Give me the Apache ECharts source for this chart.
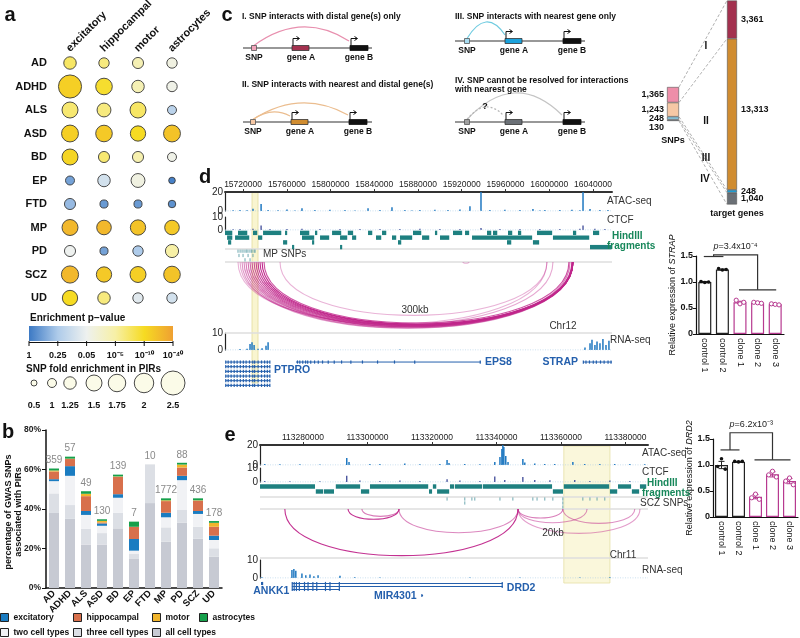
<!DOCTYPE html>
<html>
<head>
<meta charset="utf-8">
<script src="https://cdn.jsdelivr.net/npm/echarts@6.0.0/dist/echarts.min.js"></script>
<style>html,body{margin:0;padding:0;background:#fff;}#chart{width:800px;height:638px;}</style>
</head>
<body>
<div id="chart"></div>
<script>
/* ======================= DATA ======================= */
// ---- panel a ----
const cellTypes = ['excitatory','hippocampal','motor','astrocytes'];
const diseases  = ['AD','ADHD','ALS','ASD','BD','EP','FTD','MP','PD','SCZ','UD'];
// SNP fold enrichment in PIRs (rows: diseases, cols: cell types)
const foldEnrich = [
  [1.25,1.1,1.15,1.1],
  [2.4,1.6,1.25,1.1],
  [1.5,1.35,1.5,1.0],
  [1.65,1.6,1.45,1.65],
  [1.5,1.15,1.15,1.0],
  [1.0,1.25,1.35,0.6],
  [1.15,0.85,0.85,0.75],
  [1.5,1.4,1.45,1.4],
  [1.15,0.85,1.1,1.3],
  [1.7,1.45,1.5,1.6],
  [1.45,1.25,1.1,1.1]
];
// enrichment -log10(p)
const enrichNegLog10P = [
  [7.5,6.5,4.3,2.0],
  [16,9.5,4.3,1.7],
  [7,6.5,7.5,0.74],
  [16,19,10,22],
  [13,7,4.6,1.7],
  [0.3,1.0,2.0,0.06],
  [0.48,0.24,0.24,0.18],
  [28,28,22,19],
  [1.3,0.3,0.6,5],
  [28,19,16,22],
  [10,6.5,1.16,1.0]
];
const pScaleNegLog10 = [0, 0.602, 1.301, 5, 10, 40];
const pScaleLabels   = ['1','0.25','0.05','10⁻⁵','10⁻¹⁰','10⁻⁴⁰'];
const foldScaleValues = [0.5,1,1.25,1.5,1.75,2,2.5];
const foldScaleLabels = ['0.5','1','1.25','1.5','1.75','2','2.5'];

// ---- panel b (percentage of GWAS SNPs associated with PIRs) ----
const bAll   = [38, 35, 22, 22, 30.2, 14.7, 43, 23.4, 33, 25, 15.9];
const bThree = [9.9, 7, 8, 5.8, 7.9, 2.5, 19.6, 7.3, 6.5, 6, 4.2];
const bTwo   = [6.2, 14.8, 7, 3.7, 7.6, 1.7, 0, 5.1, 15.1, 6.5, 4.2];
const bExc   = [1, 4.9, 2, 1.2, 1.8, 5.9, 0, 2.3, 2.2, 1.5, 2.2];
const bHipp  = [3.9, 3.6, 7.5, 0.5, 8.8, 6.2, 0, 5.9, 4.2, 5.2, 4.5];
const bMotor = [0.5, 0.2, 1.2, 0.8, 0.2, 0, 0, 0.4, 1.5, 0.2, 2.0];
const bAstro = [1, 1, 1.3, 0.8, 0.9, 2.6, 0, 1, 0.9, 1, 0.9];
const bCounts = [359, 57, 49, 130, 139, 7, 10, 1772, 88, 436, 178];

// ---- panel c ----
const interactionClasses = ['I','II','III','IV'];
const snpCounts = [1365, 1243, 248, 130];
const targetGeneCounts = [3361, 13313, 248, 1040];

// ---- panel d (chr12, kb) ----
const dTicks = [15720,15760,15800,15840,15880,15920,15960,16000,16040];
const dTickLabels = ['15720000','15760000','15800000','15840000','15880000','15920000','15960000','16000000','16040000'];
const dRange = [15703.5, 16057.4];
const dAtac = [[15710.9,0.8],[15717.3,1],[15723.7,0.8],[15729.1,2.5],[15736.5,7.5],[15742.9,1],[15752.0,0.8],[15760.2,1.5],[15767.5,0.6],[15773.9,3],[15785.8,1],[15799.5,1.2],[15813.3,1],[15822.4,0.6],[15834.3,3],[15845.3,1],[15856.2,4],[15868.1,1],[15874.5,0.6],[15881.8,1],[15895.5,1.2],[15907.4,1],[15918.4,1.5],[15927.5,5],[15937.6,20],[15945.8,1],[15959.5,1.2],[15973.3,1],[15985.1,2],[15991.5,0.6],[15996.1,1],[16009.8,1],[16020.8,1.2],[16028.1,0.8],[16030.9,20],[16037.3,2],[16046.4,1],[16053.7,1]];
const dCtcf = [[15710.9,0.6],[15717.3,0.8],[15729.1,1],[15736.5,3.5],[15744.7,0.8],[15760.2,0.8],[15773.9,1],[15790.4,0.7],[15808.7,0.8],[15827.0,0.7],[15845.3,0.8],[15863.5,0.7],[15881.8,0.9],[15900.1,0.7],[15918.4,0.8],[15937.6,1.6],[15955.0,0.8],[15973.3,0.7],[15991.5,0.8],[16009.8,0.7],[16028.1,1],[16030.9,3.5],[16041.8,1],[16051.0,0.8]];
const dRna = [[15717.3,0.6],[15723.7,0.8],[15726.4,3.5],[15728.2,4.5],[15730.1,3],[15733.7,0.8],[15737.4,1],[15741.0,2.5],[15742.9,4.5],[15863.5,0.3],[16032.7,1.5],[16037.3,4],[16039.1,6],[16041.8,3],[16043.7,5],[16046.4,4],[16049.1,6.5],[16051.9,3],[16054.6,5.5]];
const dHindIII = [
  [15703.5,15710.9,0],[15715.4,15724.6,0],[15729.1,15733.7,0],[15738.3,15755.7,0],[15758.4,15761.1,0],[15772.1,15781.3,0],[15785.8,15788.6,0],[15801.4,15810.5,0],[15815.8,15821.4,0],[15834.3,15838.9,0],[15847.1,15851.7,0],[15875.4,15883.7,0],[15895.5,15898.3,0],[15912.0,15921.1,0],[15923.0,15927.5,0],[15943.1,15947.7,0],[15948.6,15953.2,0],[15962.3,15966.9,0],[15971.4,15975.1,0],[15988.8,16003.4,0],[16021.7,16025.4,0],[16040.0,16046.4,0],
  [15705.4,15710.9,1],[15712.7,15726.4,1],[15733.7,15738.3,1],[15773.9,15785.8,1],[15790.4,15799.5,1],[15808.7,15816.0,1],[15819.7,15824.2,1],[15841.6,15847.1,1],[15856.2,15860.8,1],[15863.5,15875.4,1],[15883.7,15891.0,1],[15900.1,15909.3,1],[15929.4,15985.1,1],[16003.4,16037.3,1],
  [15706.3,15709.9,2],[15756.6,15761.1,2],[15783.1,15785.8,2],[15861.7,15865.4,2],[15961.4,15966.0,2],[15985.1,15991.5,2],
  [15764.8,15767.5,3],[15808.7,15811.4,3],[16037.3,16057.4,3]
];
const dSnps = [[15715.4,0],[15717.3,0],[15719.1,0],[15720.9,0],[15722.7,0],[15723.7,0],[15725.5,0],[15727.3,0],[15728.2,0],[15730.1,0],[15731.0,0],[15716.3,1],[15720.0,1],[15724.6,1],[15729.1,1],[15721.8,2],[15726.4,2]];
// interactions: [start kb, end kb, strength]
const dArcs = [[15715.4,15997.9,0.35],[15717.3,16003.4,0.4],[15753.8,15997.9,0.35],[15719.1,16021.7,0.5],[15720.9,16021.7,0.55],[15722.7,16019.0,0.6],[15724.6,16021.7,0.65],[15726.4,16021.7,0.7],[15728.2,16020.8,0.75],[15730.1,16021.7,0.8],[15731.9,16021.7,0.85],[15733.7,16021.7,0.9],[15735.5,16020.8,0.95],[15737.4,16021.7,1.0],[15739.2,16018.0,0.8],[15921.1,15926.6,0.35]];
const dHighlight = [15728.2, 15733.7];
// genes: [start, end, row, label, gene]
const dGenes = [[15704.0,15744.7,0,'','PTPRO'],[15704.0,15744.7,1,'PTPRO','PTPRO'],[15704.0,15744.7,2,'','PTPRO'],[15704.0,15744.7,3,'','PTPRO'],[15704.0,15744.7,4,'','PTPRO'],[15704.0,15744.7,5,'','PTPRO'],[15768.4,15937.6,0,'EPS8','EPS8'],[16030.9,16057.4,0,'STRAP','STRAP']];
const dExons = {
  PTPRO:[15704.2,15706.4,15709.1,15711.9,15714.6,15717.5,15720.3,15722.8,15725.9,15728.9,15730.6,15733.8,15736.9,15739.7,15742.2,15744.5],
  EPS8:[15768.0,15769.8,15771.9,15774.6,15777.2,15779.1,15781.9,15785.4,15788.8,15792.7,15797.9,15803.4,15810.1,15818.6,15829.2,15843.0,15858.5,15877.0,15936.9],
  STRAP:[16031.2,16033.6,16036.8,16040.3,16043.1,16046.9,16050.2,16053.8,16056.5]
};
const barCats = ['control 1','control 2','clone 1','clone 2','clone 3'];
const dBarMean = [1.0, 1.24, 0.61, 0.60, 0.57];
const dBarErr  = [0.01, 0.01, 0.02, 0.01, 0.01];
const dBarPts  = [[1.01,0.99,1.0],[1.26,1.23,1.24],[0.65,0.58,0.61],[0.61,0.60,0.59],[0.58,0.57,0.56]];
const dBracket = {ctrl:1.49, top:1.52, clone:0.85, p:'3.4x10⁻⁴'};

// ---- panel e (chr11, kb) ----
const eTicks = [113280,113300,113320,113340,113360,113380];
const eTickLabels = ['113280000','113300000','113320000','113340000','113360000','113380000'];
const eRange = [113266.7, 113387.0];
const eAtac = [[113268.2,1],[113272.9,0.8],[113279.1,0.8],[113285.3,0.6],[113293.6,7],[113294.3,3],[113300.8,1],[113303.9,1],[113311.6,1.5],[113316.3,0.8],[113322.5,1],[113324.7,5],[113325.3,2],[113330.2,1],[113334.9,0.8],[113339.5,3],[113341.1,8],[113341.7,16],[113342.0,20],[113342.3,18],[113342.9,9],[113343.6,3],[113348.2,6],[113348.8,2.5],[113351.9,1.5],[113355.0,1],[113358.1,1],[113363.7,3],[113367.4,1],[113372.1,1],[113376.7,1],[113381.4,1],[113386.0,0.8]];
const eCtcf = [[113268.2,0.8],[113276.0,0.6],[113285.3,0.6],[113293.6,4.5],[113297.7,1],[113303.9,0.8],[113310.1,1],[113316.3,0.8],[113324.7,2],[113328.7,1],[113334.9,0.8],[113339.5,4],[113342.6,1.5],[113348.2,3.5],[113351.9,1.5],[113356.6,1.2],[113364.3,1.5],[113369.0,0.8],[113375.2,1],[113381.4,0.8]];
const eRna = [[113267.3,0.4],[113276.6,4.5],[113277.2,5],[113277.8,4],[113279.7,2.5],[113280.9,1.5],[113282.2,2],[113283.4,1],[113284.7,1.5],[113291.5,1.2],[113296.1,0.4],[113303.9,0.3],[113331.8,0.3],[113347.3,0.3],[113365.9,0.3],[113375.2,0.4]];
const eHindIII = [
  [113266.7,113284.0,0],[113290.2,113298.0,0],[113300.8,113319.1,0],[113320.3,113321.6,0],[113325.6,113327.1,0],[113327.1,113335.8,0],[113335.8,113357.5,0],[113360.9,113375.2,0],[113377.7,113382.0,0],[113384.5,113386.7,0],
  [113284.0,113286.5,1],[113286.5,113289.9,1],[113298.0,113300.8,1],[113319.1,113320.3,1],[113321.6,113325.6,1],[113357.5,113360.9,1],[113375.2,113377.7,1],[113382.0,113384.5,1]
];
const eSnps = [[113324.7,0],[113330.2,0],[113330.2,1],[113332.4,0],[113333.3,0],[113341.1,0],[113345.1,0],[113351.3,0],[113352.6,0],[113355.0,0],[113357.5,0],[113360.6,0],[113360.6,1],[113360.6,2],[113366.8,0],[113369.0,0],[113371.2,0],[113373.6,0]];
const eArcs = [[113274.4,113346.7,0.95],[113294.0,113309.8,0.95],[113298.3,113309.8,0.6],[113309.8,113346.7,0.55],[113346.7,113360.6,0.6],[113346.7,113368.1,0.5],[113360.6,113382.9,0.5],[113346.7,113384.5,0.45]];
const eHighlight = [113360.9, 113375.2];
const eGenes = [[113267.1,113267.6,0,'ANKK1','ANKK1'],[113276.6,113342.0,0,'','DRD2'],[113276.6,113342.0,1,'DRD2','DRD2'],[113276.6,113291.5,2,'','DRD2'],[113316.8,113317.0,4,'MIR4301','MIR4301']];
const eExons = {
  ANKK1:[113267.2,113267.5],
  DRD2:[113276.7,113277.3,113278.0,113278.9,113280.5,113281.6,113283.1,113284.3,113287.0,113288.4,113291.3,113341.8],
  MIR4301:[113316.9]
};
const eBarMean = [1.0, 1.06, 0.39, 0.82, 0.69];
const eBarErr  = [0.07, 0.01, 0.04, 0.05, 0.05];
const eBarPts  = [[0.97,1.12,0.92],[1.07,1.06,1.07],[0.37,0.44,0.34],[0.81,0.88,0.77],[0.69,0.75,0.62]];
const eBracket = {ctrl:1.29, top:1.62, clone:1.1, p:'6.2x10⁻³'};

/* ======================= STYLE ======================= */
const F = '"Liberation Sans", Arial, Helvetica, sans-serif';
const pColors = ['#3c79c4','#aecbea','#eef1ef','#f7f0a6','#f6db22','#efa032'];
const foldDiam = [6,9,12.5,16,17.5,19.5,24];
const GENE = '#2560ad', ARC = '#c0268b', TEAL = '#1e8080', CLONE = '#b73a90', GREEN = '#17875a';
const snpColors = ['#ee8ea9','#f6c8a5','#8fd3ee','#6b7076'];
const geneColors = ['#a3314f','#d08c30','#1ba2dc','#6b7076'];
const geneLabelPos = {PTPRO:['right',4,3], EPS8:['right',4,0], STRAP:['left',-5,0], ANKK1:['below',-8,8], DRD2:['right',4,2], MIR4301:['left',-5,1]};

function interp(xs, ys, v){ if(v<=xs[0]) return ys[0]; for(let i=1;i<xs.length;i++){ if(v<=xs[i]){ const t=(v-xs[i-1])/(xs[i]-xs[i-1]); return ys[i-1]+t*(ys[i]-ys[i-1]); } } return ys[ys.length-1]; }
function hexRgb(h){ return [parseInt(h.slice(1,3),16),parseInt(h.slice(3,5),16),parseInt(h.slice(5,7),16)]; }
function pColor(v){ let i=1; while(i<pScaleNegLog10.length-1 && v>pScaleNegLog10[i]) i++; const t=Math.max(0,Math.min(1,(v-pScaleNegLog10[i-1])/(pScaleNegLog10[i]-pScaleNegLog10[i-1]))); const a=hexRgb(pColors[i-1]), b=hexRgb(pColors[i]); return 'rgb('+a.map((c,k)=>Math.round(c+(b[k]-c)*t)).join(',')+')'; }
function foldSize(f){ return interp(foldScaleValues, foldDiam, f); }
const sum = a => a.reduce((s,v)=>s+v,0);
const fmt = n => String(n).replace(/\B(?=(\d{3})+(?!\d))/g, ',');

/* ======================= OPTION ======================= */
const grid=[], xAxis=[], yAxis=[], series=[];
function addGrid(g, xa, ya){ const i=grid.length; grid.push(Object.assign({outerBoundsMode:'none', containLabel:false}, g)); xAxis.push(Object.assign({gridIndex:i}, xa)); yAxis.push(Object.assign({gridIndex:i}, ya)); return i; }
const hv = (min,max,inv)=>({type:'value', min:min, max:max, inverse:!!inv, show:false, splitLine:{show:false}});
const lbl = (o)=>Object.assign({fontFamily:F, color:'#111'}, o);

// ---- panel a ----
const gA = addGrid({left:53, top:51.25, width:136, height:258.5},
  {type:'category', data:cellTypes, position:'top', axisLine:{show:false}, axisTick:{show:false}, splitLine:{show:false}, axisLabel:{show:false}},
  {type:'category', data:diseases, inverse:true, axisLine:{show:false}, axisTick:{show:false}, splitLine:{show:false}, axisLabel:lbl({interval:0, margin:6, fontWeight:'bold', fontSize:11})});
const bubbles=[];
diseases.forEach((d,r)=>cellTypes.forEach((c,k)=>bubbles.push([k, r, foldEnrich[r][k], enrichNegLog10P[r][k]])));
series.push({type:'scatter', xAxisIndex:gA, yAxisIndex:gA, data:bubbles, silent:true, symbolSize:v=>foldSize(v[2]), itemStyle:{color:p=>pColor(p.data[3]), borderColor:'#3a3a3a', borderWidth:0.9, opacity:1}});

// ---- panel b ----
const gB = addGrid({left:46, top:430, width:176, height:158},
  {type:'category', data:diseases, axisLine:{lineStyle:{color:'#111', width:1.5}}, axisTick:{alignWithLabel:true, length:3, lineStyle:{color:'#111'}}, axisLabel:lbl({interval:0, rotate:45, margin:4, fontWeight:'bold', fontSize:9.5})},
  {type:'value', min:0, max:80, interval:20, axisLine:{show:true, onZero:false, lineStyle:{color:'#111', width:1.5}}, axisTick:{show:true, length:4, lineStyle:{color:'#111'}}, splitLine:{show:false}, axisLabel:lbl({formatter:'{value}%', margin:5, fontWeight:'bold', fontSize:8.5, color:'#222'})});
const bSegs = [['all cell types',bAll,'#c7cad3'],['three cell types',bThree,'#dcdfe5'],['two cell types',bTwo,'#f1f2f5'],['excitatory',bExc,'#1a7cc1'],['hippocampal',bHipp,'#d8704c'],['motor',bMotor,'#f1b52c'],['astrocytes',bAstro,'#16a04b']];
bSegs.forEach(s=>series.push({type:'bar', name:s[0], xAxisIndex:gB, yAxisIndex:gB, stack:'b', barWidth:10, data:s[1], itemStyle:{color:s[2]}, silent:true}));
series.push({type:'bar', name:'count', xAxisIndex:gB, yAxisIndex:gB, stack:'b', barWidth:10, data:bCounts.map(()=>0), itemStyle:{color:'rgba(0,0,0,0)'}, silent:true,
  label:{show:true, position:'top', distance:3, formatter:p=>String(bCounts[p.dataIndex]), fontFamily:F, fontSize:10, color:'#8a8a8a'}});
const legendPos = [['excitatory',0,613],['hippocampal',73,613],['motor',152,613],['astrocytes',199,613],['two cell types',0,628],['three cell types',73,628],['all cell types',152,628]];
const legend = legendPos.map(l=>({data:[l[0]], left:l[1], top:l[2], padding:0, itemGap:0, itemWidth:8, itemHeight:8, icon:'rect', selectedMode:false,
  itemStyle:{borderColor:'#222', borderWidth:1}, textStyle:{fontFamily:F, fontWeight:'bold', fontSize:8.5, color:'#111'}}));

// ---- panel c ----
const gS = addGrid({left:667, top:87, width:12, height:34}, {type:'category', data:['SNPs'], show:false}, hv(0, sum(snpCounts), true));
const gT = addGrid({left:727, top:0.5, width:10, height:204}, {type:'category', data:['target genes'], show:false}, hv(0, sum(targetGeneCounts), true));
interactionClasses.forEach((cls,i)=>{
  series.push({type:'bar', name:'SNPs '+cls, xAxisIndex:gS, yAxisIndex:gS, stack:'s', barWidth:'100%', data:[snpCounts[i]], silent:true,
    itemStyle:{color:snpColors[i], borderColor:'#555', borderWidth:0.6},
    label:{show:true, position:'left', distance:3, offset:(i===3?[0,7]:[0,0]), formatter:fmt(snpCounts[i]), fontFamily:F, fontWeight:'bold', fontSize:9, color:'#111'}});
  series.push({type:'bar', name:'genes '+cls, xAxisIndex:gT, yAxisIndex:gT, stack:'t', barWidth:'100%', data:[targetGeneCounts[i]], silent:true,
    itemStyle:{color:geneColors[i], borderColor:'#555', borderWidth:0.6},
    label:{show:true, position:'right', distance:4, offset:(i===1?[0,-5]:[0,0]), formatter:fmt(targetGeneCounts[i]), fontFamily:F, fontWeight:'bold', fontSize:9, color:'#111'}});
});

// ---- helpers for genome tracks ----
function coordAxis(range, ticks, labels){
  const fmtTick = v => { let bi=0; ticks.forEach((t,i)=>{ if(Math.abs(t-v)<Math.abs(ticks[bi]-v)) bi=i; }); return labels[bi]; };
  return {type:'value', min:range[0], max:range[1], position:'top', splitLine:{show:false},
    axisLine:{show:true, onZero:false, lineStyle:{color:'#333', width:2}},
    axisTick:{show:true, customValues:ticks, length:3, lineStyle:{color:'#333'}},
    axisLabel:{show:true, customValues:ticks, formatter:fmtTick, margin:3, fontFamily:F, fontSize:8.5, color:'#222'}};
}
const sigY = (max)=>({type:'value', min:0, max:max, interval:max, splitLine:{show:false}, axisLine:{show:true, onZero:false, lineStyle:{color:'#222', width:1.2}}, axisTick:{show:false}, axisLabel:{fontFamily:F, fontSize:10, color:'#222', margin:2}});
const hx = (range)=>({type:'value', min:range[0], max:range[1], show:false, splitLine:{show:false}});
function signalSeries(gi, data, color, w, range){
  series.push({type:'line', xAxisIndex:gi, yAxisIndex:gi, data:[[range[0],0],[range[1],0]], symbol:'none', silent:true, lineStyle:{color:'#a9cbe6', width:0.8, type:[1,1.5]}});
  series.push({type:'custom', xAxisIndex:gi, yAxisIndex:gi, data:data, silent:true, renderItem:(p,api)=>{
    const a=api.coord([api.value(0),0]), b=api.coord([api.value(0),api.value(1)]);
    return {type:'rect', shape:{x:a[0]-w/2, y:b[1], width:w, height:Math.max(0.6,a[1]-b[1])}, style:{fill:color}};
  }});
}
function fragSeries(gi, data){
  series.push({type:'custom', xAxisIndex:gi, yAxisIndex:gi, data:data, silent:true, renderItem:(p,api)=>{
    const a=api.coord([api.value(0),api.value(2)]), b=api.coord([api.value(1),api.value(2)]);
    return {type:'rect', shape:{x:a[0], y:a[1]-2.2, width:Math.max(1,b[0]-a[0]-0.8), height:4.4}, style:{fill:TEAL}};
  }});
}
function snpSeries(gi, data){
  series.push({type:'custom', xAxisIndex:gi, yAxisIndex:gi, data:data, silent:true, renderItem:(p,api)=>{
    const a=api.coord([api.value(0),api.value(1)]);
    return {type:'line', shape:{x1:a[0], y1:a[1]-1.6, x2:a[0], y2:a[1]+1.6}, style:{stroke:'#5e9fa8', lineWidth:0.9}};
  }});
}
function arcSeries(gi, data){
  series.push({type:'custom', xAxisIndex:gi, yAxisIndex:gi, data:data, silent:true, renderItem:(p,api)=>{
    const a=api.coord([api.value(0),0]), b=api.coord([api.value(1),0]);
    const k=0.2*(b[0]-a[0])*4/3;
    return {type:'bezierCurve', shape:{x1:a[0], y1:a[1], x2:b[0], y2:b[1], cpx1:a[0], cpy1:a[1]+k, cpx2:b[0], cpy2:b[1]+k}, style:{stroke:ARC, opacity:api.value(2), lineWidth:1.1, fill:'none'}};
  }});
}
function geneSeries(gi, genes, exons){
  series.push({type:'custom', xAxisIndex:gi, yAxisIndex:gi, data:genes.map((g,i)=>[g[0], g[2], i]), silent:true, renderItem:(p,api)=>{
    const g=genes[api.value(2)];
    const a=api.coord([g[0],g[2]]), b=api.coord([g[1],g[2]]);
    const ch=[{type:'line', shape:{x1:a[0], y1:a[1], x2:Math.max(b[0],a[0]+1.5), y2:b[1]}, style:{stroke:GENE, lineWidth:1}}];
    (exons[g[4]]||[]).forEach(e=>{ if(e>=g[0]-0.01 && e<=g[1]+0.01){ const c=api.coord([e,g[2]]); ch.push({type:'rect', shape:{x:c[0]-0.6, y:c[1]-1.6, width:1.2, height:3.2}, style:{fill:GENE}}); }});
    if(g[3]){
      const lp=geneLabelPos[g[4]];
      let x, al='left';
      if(lp[0]==='right'){ x=b[0]+lp[1]; } else if(lp[0]==='left'){ x=a[0]+lp[1]; al='right'; } else { x=a[0]+lp[1]; }
      ch.push({type:'text', x:x, y:a[1]+lp[2], style:{text:g[3], fill:GENE, fontFamily:F, fontWeight:'bold', fontSize:10.5, align:al, verticalAlign:'middle', textAlign:al, textVerticalAlign:'middle'}});
    }
    return {type:'group', children:ch};
  }});
}

// ---- panel d tracks ----
const gDA = addGrid({left:225, top:192, width:387, height:19}, coordAxis(dRange, dTicks, dTickLabels), sigY(20));
signalSeries(gDA, dAtac, '#1f78c1', 1.5, dRange);
const gDC = addGrid({left:225, top:217, width:387, height:13}, hx(dRange), sigY(10));
signalSeries(gDC, dCtcf, '#2d3a8f', 1.2, dRange);
const gDH = addGrid({left:225, top:230.5, width:387, height:19}, hx(dRange), hv(-0.5, 3.5, true));
fragSeries(gDH, dHindIII);
const gDS = addGrid({left:225, top:249, width:387, height:13}, hx(dRange), hv(-0.5, 2.5, true));
snpSeries(gDS, dSnps);
const gDR = addGrid({left:225, top:262, width:387, height:70}, hx(dRange), hv(0, 1, true));
arcSeries(gDR, dArcs);
const gDN = addGrid({left:225, top:333, width:387, height:17}, hx(dRange), sigY(10));
signalSeries(gDN, dRna, '#1f78c1', 1.5, dRange);
const gDG = addGrid({left:225, top:359.7, width:387, height:28}, hx(dRange), hv(-0.5, 5.5, true));
geneSeries(gDG, dGenes, dExons);

// ---- bar charts ----
function barChart(g, means, errs, pts){
  series.push({type:'bar', xAxisIndex:g, yAxisIndex:g, barWidth:13, silent:true, data:means.map((v,i)=>({value:v, itemStyle:{borderColor:i<2?'#222':CLONE}})), itemStyle:{color:'#fff', borderWidth:1.2}});
  series.push({type:'custom', xAxisIndex:g, yAxisIndex:g, silent:true, z:5, data:means.map((m,i)=>[i,m,errs[i]]), renderItem:(p,api)=>{
    const i=api.value(0), m=api.value(1), e=api.value(2), col=i<2?'#222':CLONE;
    const t=api.coord([i,m+e]), b=api.coord([i,m-e]);
    return {type:'group', children:[
      {type:'line', shape:{x1:t[0], y1:t[1], x2:b[0], y2:b[1]}, style:{stroke:col, lineWidth:1}},
      {type:'line', shape:{x1:t[0]-3, y1:t[1], x2:t[0]+3, y2:t[1]}, style:{stroke:col, lineWidth:1}},
      {type:'line', shape:{x1:b[0]-3, y1:b[1], x2:b[0]+3, y2:b[1]}, style:{stroke:col, lineWidth:1}}]};
  }});
  series.push({type:'custom', xAxisIndex:g, yAxisIndex:g, silent:true, z:6, data:pts.map((d,i)=>[i,d[0],d[1],d[2]]), renderItem:(p,api)=>{
    const i=api.value(0), ch=[];
    for(let k=0;k<3;k++){ const c=api.coord([i, api.value(k+1)]);
      ch.push(i<2 ? {type:'circle', shape:{cx:c[0]+(k-1)*3.8, cy:c[1], r:1.8}, style:{fill:'#111'}}
                  : {type:'circle', shape:{cx:c[0]+(k-1)*3.8, cy:c[1], r:2.1}, style:{fill:'#fff', stroke:CLONE, lineWidth:1}}); }
    return {type:'group', children:ch};
  }});
}
function barAxes(gene){
  return [
    {type:'category', data:barCats, axisLine:{lineStyle:{color:'#111', width:1.2}}, axisTick:{alignWithLabel:true, length:3, lineStyle:{color:'#111'}}, axisLabel:lbl({interval:0, rotate:-90, margin:4, fontSize:9})},
    {type:'value', min:0, max:1.5, interval:0.5, splitLine:{show:false}, axisLine:{show:true, onZero:false, lineStyle:{color:'#111', width:1.2}}, axisTick:{show:true, length:3, lineStyle:{color:'#111'}},
      axisLabel:lbl({formatter:v=>v===0?'0':v.toFixed(1), margin:3, fontWeight:'bold', fontSize:9}),
      name:'Relative expression of {i|'+gene+'}', nameLocation:'middle', nameGap:15, nameRotate:90,
      nameTextStyle:{fontFamily:F, fontSize:9, color:'#111', rich:{i:{fontFamily:F, fontStyle:'italic', fontSize:9, color:'#111'}}}}
  ];
}
const dAx = barAxes('STRAP');
const gBD = addGrid({left:696, top:256, width:88, height:78}, dAx[0], dAx[1]);
barChart(gBD, dBarMean, dBarErr, dBarPts);

// ---- panel e tracks ----
const gEA = addGrid({left:260, top:445, width:388, height:20}, coordAxis(eRange, eTicks, eTickLabels), sigY(20));
signalSeries(gEA, eAtac, '#1f78c1', 1.5, eRange);
const gEC = addGrid({left:260, top:468, width:388, height:14}, hx(eRange), sigY(10));
signalSeries(gEC, eCtcf, '#2d3a8f', 1.2, eRange);
const gEH = addGrid({left:260, top:484, width:388, height:10}, hx(eRange), hv(-0.5, 1.5, true));
fragSeries(gEH, eHindIII);
const gES = addGrid({left:260, top:497, width:388, height:12}, hx(eRange), hv(-0.5, 2.5, true));
snpSeries(gES, eSnps);
const gER = addGrid({left:260, top:509, width:388, height:49}, hx(eRange), hv(0, 1, true));
arcSeries(gER, eArcs);
const gEN = addGrid({left:260, top:560, width:388, height:18}, hx(eRange), sigY(10));
signalSeries(gEN, eRna, '#1f78c1', 1.5, eRange);
const gEG = addGrid({left:260, top:582, width:388, height:18}, hx(eRange), hv(-0.5, 5.5, true));
geneSeries(gEG, eGenes, eExons);

const eAx = barAxes('DRD2');
const gBE = addGrid({left:713, top:439, width:85, height:78}, eAx[0], eAx[1]);
barChart(gBE, eBarMean, eBarErr, eBarPts);

const chart = echarts.init(document.getElementById('chart'), null, {renderer:'canvas', width:800, height:638});
chart.setOption({animation:false, backgroundColor:'#fff', textStyle:{fontFamily:F}, grid:grid, xAxis:xAxis, yAxis:yAxis, series:series, legend:legend});

/* ======================= ANNOTATIONS ======================= */
const G=[];
function txt(x,y,text,o){ o=o||{}; const al=o.align||'left', va=o.va||'middle';
  G.push({type:'text', x:x, y:y, rotation:o.rot||0, z:o.z||20, silent:true, style:{text:text, fill:o.color||'#111', fontFamily:F, fontSize:o.size||10, fontWeight:o.weight||'normal', fontStyle:o.fstyle||'normal', align:al, verticalAlign:va, textAlign:al, textVerticalAlign:va, lineHeight:o.lh, rich:o.rich}}); }
function ln(x1,y1,x2,y2,color,w,dash,z){ G.push({type:'line', silent:true, z:(z==null?15:z), shape:{x1:x1,y1:y1,x2:x2,y2:y2}, style:{stroke:color, lineWidth:w||1, lineDash:dash||null}}); }
function rc(x,y,w,h,fill,stroke,lw,z){ G.push({type:'rect', silent:true, z:(z==null?15:z), shape:{x:x,y:y,width:w,height:h}, style:{fill:fill, stroke:stroke||null, lineWidth:lw||0}}); }
function curve(x1,y1,x2,y2,peakY,color,w,dash){ const cp=2*peakY-(y1+y2)/2; G.push({type:'bezierCurve', silent:true, z:15, shape:{x1:x1,y1:y1,x2:x2,y2:y2,cpx1:(x1+x2)/2,cpy1:cp}, style:{stroke:color, lineWidth:w||1.1, fill:'none', lineDash:dash||null}}); }
function poly(pts,color,w){ G.push({type:'polyline', silent:true, z:15, shape:{points:pts}, style:{stroke:color, lineWidth:w||1, fill:'none'}}); }
function tss(x,y){ poly([[x,y],[x,y-7],[x+6,y-7]],'#111',1); poly([[x+3.5,y-9],[x+6.5,y-7],[x+3.5,y-5]],'#111',1); }

// panel letters
txt(10,15,'a',{weight:'bold',size:20,align:'center'});
txt(8,432,'b',{weight:'bold',size:20,align:'center'});
txt(227,15,'c',{weight:'bold',size:20,align:'center'});
txt(205,177,'d',{weight:'bold',size:20,align:'center'});
txt(230,435,'e',{weight:'bold',size:20,align:'center'});

// panel a column headers (rotated)
cellTypes.forEach(c=>{ const x=chart.convertToPixel({xAxisIndex:gA}, c); txt(x-2, 50, c, {weight:'bold', size:11, rot:Math.PI/4}); });

// panel a legends
txt(30,318,'Enrichment p−value',{weight:'bold',size:10});
G.push({type:'rect', silent:true, z:15, shape:{x:29,y:326,width:144,height:15}, style:{fill:new echarts.graphic.LinearGradient(0,0,1,0, pColors.map((c,i)=>({offset:i/(pColors.length-1), color:c})))}});
ln(29,342.5,173,342.5,'#111',1);
pScaleLabels.forEach((l,i)=>{ const x=29+i*144/(pScaleLabels.length-1); ln(x,341,x,346,'#111',1); txt(x,356,l,{align:'center',weight:'bold',size:9}); });
txt(26,369,'SNP fold enrichment in PIRs',{weight:'bold',size:10});
const foldLegX=[34,52,70,94,117,144,173];
foldScaleValues.forEach((f,i)=>{ G.push({type:'circle', silent:true, z:15, shape:{cx:foldLegX[i], cy:383, r:foldSize(f)/2}, style:{fill:'#fbfbe8', stroke:'#333', lineWidth:0.9}}); txt(foldLegX[i],406,foldScaleLabels[i],{align:'center',weight:'bold',size:9}); });

// panel b y title
txt(13.5,512,'percentage of GWAS SNPs\nassociated with PIRs',{align:'center',weight:'bold',size:9,rot:Math.PI/2,lh:10.5});

// panel c diagrams
function diagram(ly, x0, x1, sx, ax, bx, sFill, aFill, arcs){
  ln(x0,ly,x1,ly,'#333',1.2);
  arcs.forEach(a=>curve(sx, ly-2.5, a[0], ly-a[1], a[2], a[3], 1.2, a[4]));
  rc(sx-2.5, ly-2.5, 5, 5, sFill, '#555', 0.8);
  rc(ax, ly-2.5, 17, 5, aFill, '#333', 0.8);
  rc(bx, ly-2.5, 18, 5, '#111', '#111', 0.8);
  tss(ax+1, ly-2.5); tss(bx+1, ly-2.5);
  txt(sx, ly+9.5, 'SNP', {align:'center',weight:'bold',size:8.5});
  txt(ax+9, ly+9.5, 'gene A', {align:'center',weight:'bold',size:8.5});
  txt(bx+9, ly+9.5, 'gene B', {align:'center',weight:'bold',size:8.5});
}
txt(242,17,'I. SNP interacts with distal gene(s) only',{weight:'bold',size:8.5});
diagram(48, 243, 372, 254, 292, 350, '#f2a3ba', geneColors[0], [[349,7,27,'#e88fae']]);
txt(242,85,'II. SNP interacts with nearest and distal gene(s)',{weight:'bold',size:8.5});
diagram(122, 243, 372, 253, 291, 349, '#f6c8a5', geneColors[1], [[348,7,103,'#ebbd8f'],[290,6,112,'#ebbd8f']]);
txt(455,17,'III. SNP interacts with nearest gene only',{weight:'bold',size:8.5});
diagram(41, 455, 585, 467, 505, 563, '#a9ddf2', geneColors[2], [[505,6,22,'#6fcbe0']]);
txt(455,81,'IV. SNP cannot be resolved for interactions',{weight:'bold',size:8.5});
txt(455,90,'with nearest gene',{weight:'bold',size:8.5});
diagram(122, 455, 585, 467, 505, 563, '#a0a0a0', geneColors[3], [[562,7,93,'#c4c4c4'],[504,6,107,'#b5b5b5',[2,2]]]);
txt(485,107,'?',{weight:'bold',size:9,align:'center'});

// panel c connectors
const snpCum=[0], tgCum=[0];
snpCounts.forEach((v,i)=>snpCum.push(snpCum[i]+v));
targetGeneCounts.forEach((v,i)=>tgCum.push(tgCum[i]+v));
snpCum.forEach((v,i)=>ln(667+12, chart.convertToPixel({yAxisIndex:gS}, v), 727, chart.convertToPixel({yAxisIndex:gT}, tgCum[i]), '#9a9a9a', 0.8, [3,2], 5));
txt(706,46,'I',{weight:'bold',size:10,align:'center'});
txt(706,121,'II',{weight:'bold',size:10,align:'center'});
txt(706,158,'III',{weight:'bold',size:10,align:'center'});
txt(705,179,'IV',{weight:'bold',size:10,align:'center'});
txt(673,141,'SNPs',{weight:'bold',size:9,align:'center'});
txt(737,214,'target genes',{weight:'bold',size:9,align:'center'});

// panel d/e highlight bands
const dxp = v=>chart.convertToPixel({xAxisIndex:gDA}, v);
const exp = v=>chart.convertToPixel({xAxisIndex:gEA}, v);
rc(dxp(dHighlight[0]), 192, dxp(dHighlight[1])-dxp(dHighlight[0]), 191, 'rgba(247,242,196,0.8)', '#e3dc9c', 0.8, 0);
rc(exp(eHighlight[0]), 446, exp(eHighlight[1])-exp(eHighlight[0]), 137, 'rgba(249,245,210,0.8)', '#e6dfa6', 0.8, 0);

// track separators and labels (d)
[249,262,333].forEach(y=>ln(225,y,612,y,'#dedede',1.5,null,1));
txt(263,254,'MP SNPs',{size:10,color:'#333'});
txt(415,310,'300kb',{size:10,color:'#333',align:'center'});
txt(563,326,'Chr12',{size:10,color:'#333',align:'center'});
txt(607,201,'ATAC-seq',{size:10,color:'#333'});
txt(607,220,'CTCF',{size:10,color:'#333'});
txt(612,236,'HindIII',{size:10,weight:'bold',color:GREEN});
txt(607,246,'fragments',{size:10,weight:'bold',color:GREEN});
txt(610,340,'RNA-seq',{size:10,color:'#333'});
// (e)
[497,509,558].forEach(y=>ln(260,y,648,y,'#dedede',1.5,null,1));
txt(640,503,'SCZ SNPs',{size:10,color:'#333'});
txt(553,533,'20kb',{size:10,color:'#333',align:'center'});
txt(623,555,'Chr11',{size:10,color:'#333',align:'center'});
txt(642,453,'ATAC-seq',{size:10,color:'#333'});
txt(642,472,'CTCF',{size:10,color:'#333'});
txt(647,483,'HindIII',{size:10,weight:'bold',color:GREEN});
txt(642,493,'fragments',{size:10,weight:'bold',color:GREEN});
txt(642,570,'RNA-seq',{size:10,color:'#333'});

// significance brackets
function bracket(g, lv){
  const cx = barCats.map(c=>chart.convertToPixel({xAxisIndex:g}, c));
  const y = v=>chart.convertToPixel({yAxisIndex:g}, v);
  const cm=(cx[0]+cx[1])/2, km=(cx[2]+cx[4])/2;
  ln(cx[0]-1, y(lv.ctrl), cx[1]+1, y(lv.ctrl), '#333', 1.2);
  ln(cx[2]-1, y(lv.clone), cx[4]+1, y(lv.clone), '#333', 1.2);
  poly([[cm,y(lv.ctrl)],[cm,y(lv.top)],[km,y(lv.top)],[km,y(lv.clone)]],'#333',1.2);
  txt((cm+km)/2, y(lv.top)-8, '{i|p}='+lv.p, {align:'center', size:9, color:'#222', rich:{i:{fontStyle:'italic', fontFamily:F, fontSize:9, fill:'#222', color:'#222'}}});
}
bracket(gBD, dBracket);
bracket(gBE, eBracket);

chart.setOption({graphic:{elements:G}});
</script>
</body>
</html>
